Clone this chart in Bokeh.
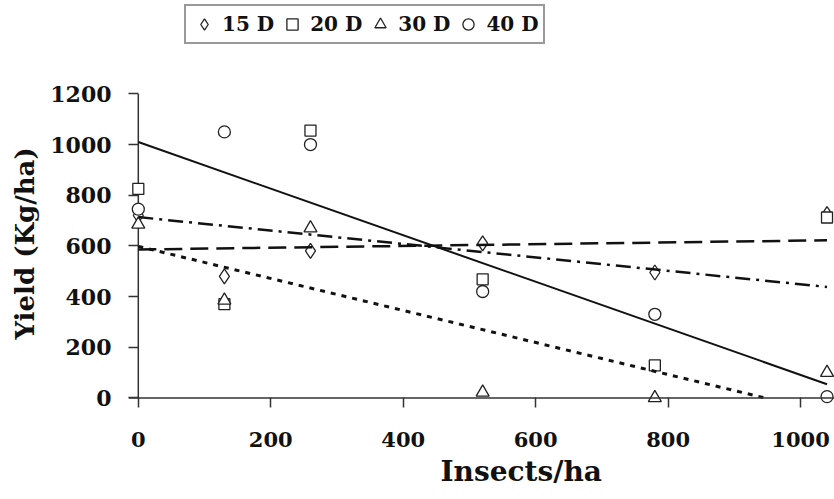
import numpy as np
from bokeh.plotting import figure
from bokeh.models import Range1d, Legend, LegendItem, FixedTicker, Span, Title
from bokeh.embed import file_html
from bokeh.resources import INLINE

# ---- data ----
insects = [0, 130, 260, 520, 780, 1040]
yield_15d = [720, 480, 580, 610, 495, 725]
yield_20d = [825, 370, 1055, 468, 128, 712]
yield_30d = [685, 385, 670, 22, 0, 100]
yield_40d = [745, 1050, 1000, 420, 330, 5]
series_names = ["15 D", "20 D", "30 D", "40 D"]
x_ticks = [0, 200, 400, 600, 800, 1000]
y_ticks = [0, 200, 400, 600, 800, 1000, 1200]

FONT = "DejaVu Serif"
INK = "#222222"
AXIS = "#333333"

p = figure(width=834, height=499, output_backend="svg", toolbar_location=None,
           x_range=Range1d(-14.8, 1051.3), y_range=Range1d(-30, 1568.6),
           min_border_left=128, min_border_right=0,
           min_border_top=0, min_border_bottom=94)
p.outline_line_color = None
p.grid.visible = False
p.background_fill_color = "white"
p.border_fill_color = "white"

p.xaxis.ticker = FixedTicker(ticks=x_ticks)
p.yaxis.ticker = FixedTicker(ticks=y_ticks)
p.axis.axis_line_color = None
p.axis.minor_tick_out = 0
p.axis.minor_tick_in = 0
p.axis.major_tick_line_color = AXIS
p.axis.major_tick_line_width = 1.5
p.xaxis.major_tick_in = 8
p.xaxis.major_tick_out = 2
p.yaxis.major_tick_in = 10
p.yaxis.major_tick_out = 0
p.axis.major_label_text_font = FONT
p.axis.major_label_text_font_style = "bold"
p.axis.major_label_text_color = "#111111"
p.xaxis.major_label_text_font_size = "21px"
p.yaxis.major_label_text_font_size = "22px"
p.xaxis.major_label_standoff = 24
p.yaxis.major_label_standoff = 17

xtitle = Title(text="Insects/ha", align="left", offset=312, standoff=7,
               vertical_align="bottom",
               text_font=FONT, text_font_style="bold", text_font_size="28px",
               text_color="#111111")
p.add_layout(xtitle, "below")
ytitle = Title(text="Yield (Kg/ha)", align="left", offset=66, standoff=14,
               vertical_align="middle",
               text_font=FONT, text_font_style="bold", text_font_size="26px",
               text_color="#111111")
p.add_layout(ytitle, "left")

# axis lines through the origin
p.add_layout(Span(location=0, dimension="width", line_color=AXIS, line_width=1.5))
p.line([0, 0], [y_ticks[0], y_ticks[-1]], line_color=AXIS, line_width=1.5)

all_series = [yield_15d, yield_20d, yield_30d, yield_40d]
markers = [("diamond", 15), ("square", 11), ("triangle", 13), ("circle", 12)]
line_styles = [("18 8", 2.5), ("15 6 3 6", 2.5), ("5 6", 3), ("solid", 2)]

scatter_renderers = []
for ys, (mk, sz) in zip(all_series, markers):
    r = p.scatter(insects, ys, marker=mk, size=sz,
                  fill_color="white", line_color=INK, line_width=1.3)
    scatter_renderers.append(r)


def trend(xs, ys):
    slope, intercept = np.polyfit(xs, ys, 1)
    x0, x1 = min(xs), max(xs)
    if intercept + slope * x1 < 0:
        x1 = -intercept / slope
    return [x0, x1], [intercept + slope * x0, intercept + slope * x1]


for ys, (dash, lw) in zip(all_series, line_styles):
    tx, ty = trend(insects, ys)
    p.line(tx, ty, line_color="#111111", line_width=lw, line_dash=dash)

legend = Legend(items=[LegendItem(label=n, renderers=[r])
                       for n, r in zip(series_names, scatter_renderers)],
                orientation="horizontal", location=(56, 361),
                label_text_font=FONT, label_text_font_style="bold",
                label_text_font_size="20px", label_text_color="#111111",
                glyph_width=28, glyph_height=28, label_standoff=4,
                spacing=4, padding=4, margin=0,
                border_line_color=AXIS, border_line_width=2,
                background_fill_color="white", background_fill_alpha=1)
p.add_layout(legend)

open("out.html", "w").write(file_html(p, INLINE))
